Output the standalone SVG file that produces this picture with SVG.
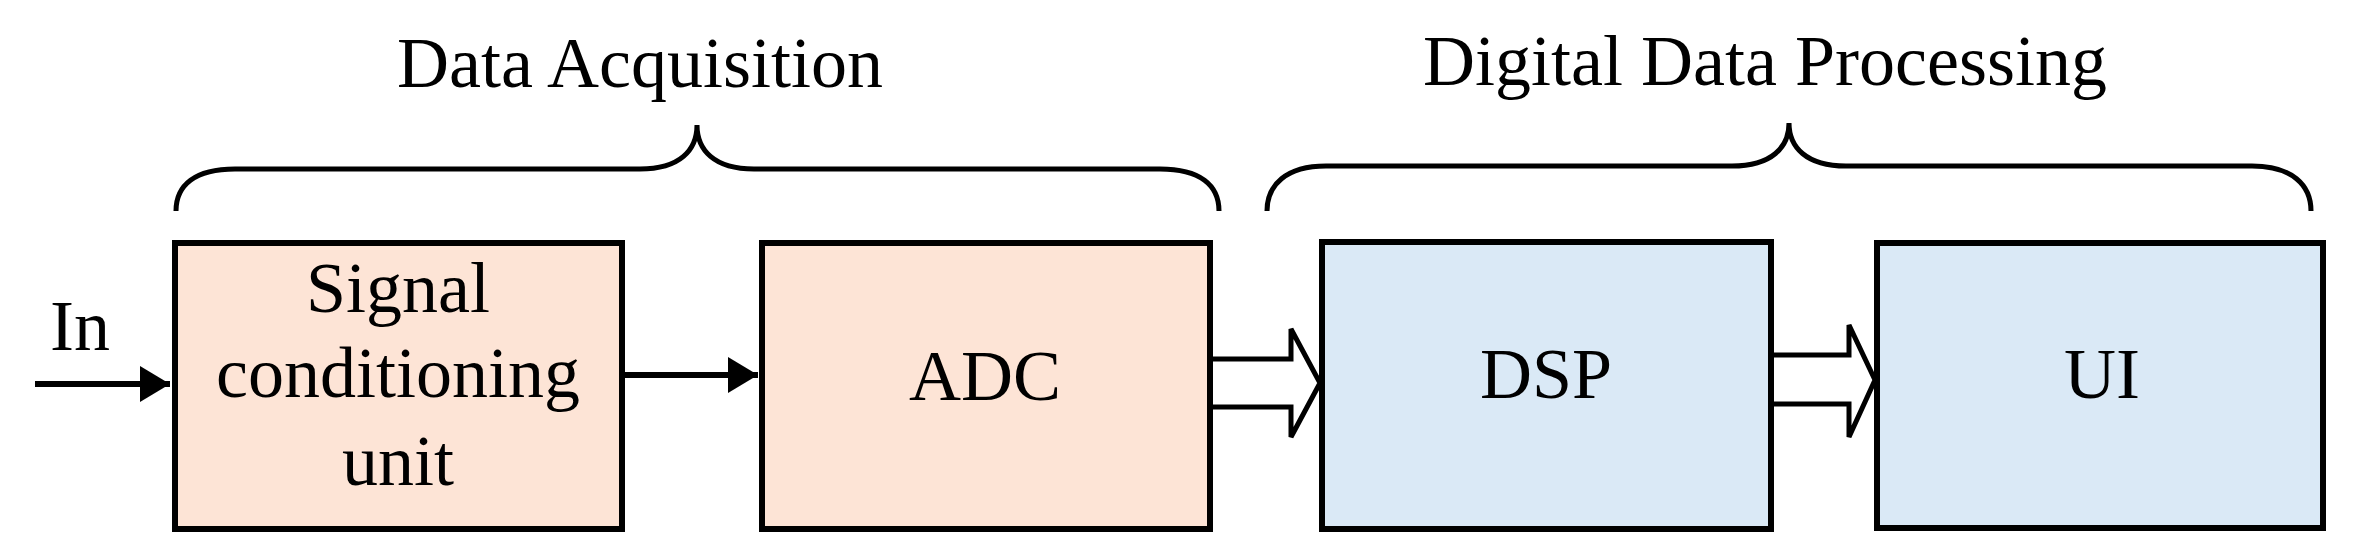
<svg xmlns="http://www.w3.org/2000/svg" width="2362" height="560" viewBox="0 0 2362 560">
<style>
text{font-family:"Liberation Serif","Times New Roman",serif;font-size:72px;fill:#000}
.c{text-anchor:middle}
.box{stroke:#000;stroke-width:6}
.acq{fill:#fde4d6}
.dig{fill:#dae9f6}
.brace{fill:none;stroke:#000;stroke-width:5}
.line{stroke:#000;stroke-width:6;fill:none}
.hollow{fill:#fff;stroke:#000;stroke-width:5;stroke-linejoin:miter}
</style>
<defs>
<marker id="ah" markerWidth="6" markerHeight="6" refX="5" refY="3" orient="auto" markerUnits="strokeWidth"><path d="M0,0 L5,3 L0,6 z" fill="#000"/></marker>
</defs>
<g id="labels">
<text class="c" x="640" y="87">Data Acquisition</text>
<text class="c" x="1765" y="85">Digital Data Processing</text>
<text x="50" y="350">In</text>
</g>
<g id="braces">
<path class="brace" d="M176,211 C176,185 195,169 235,169 L640,169 C680,169 697,150 697,125 C697,150 714,169 754,169 L1160,169 C1200,169 1219,185 1219,211"/>
<path class="brace" d="M1267,211 C1267,185 1286,166 1326,166 L1732,166 C1772,166 1789,147 1789,123 C1789,147 1806,166 1846,166 L2252,166 C2292,166 2311,185 2311,211"/>
</g>
<g id="signal">
<rect class="box acq" x="175" y="243" width="447" height="286"/>
<text class="c" x="398" y="312">Signal</text>
<text class="c" x="398" y="397">conditioning</text>
<text class="c" x="398" y="485">unit</text>
</g>
<g id="adc">
<rect class="box acq" x="762" y="243" width="448" height="286"/>
<text class="c" x="985" y="400">ADC</text>
</g>
<g id="dsp">
<rect class="box dig" x="1322" y="242" width="449" height="287"/>
<text class="c" x="1546" y="398">DSP</text>
</g>
<g id="ui">
<rect class="box dig" x="1877" y="243" width="446" height="285"/>
<text class="c" x="2102" y="398">UI</text>
</g>
<g id="connectors">
<line class="line" x1="35" y1="384" x2="170" y2="384" marker-end="url(#ah)"/>
<line class="line" x1="625" y1="375" x2="758" y2="375" marker-end="url(#ah)"/>
<path class="hollow" d="M1213,359 L1291,359 L1291,329 L1320,383 L1291,437 L1291,407 L1213,407"/>
<path class="hollow" d="M1774,355 L1849,355 L1849,325 L1875,380 L1849,437 L1849,404 L1774,404"/>
</g>
</svg>
